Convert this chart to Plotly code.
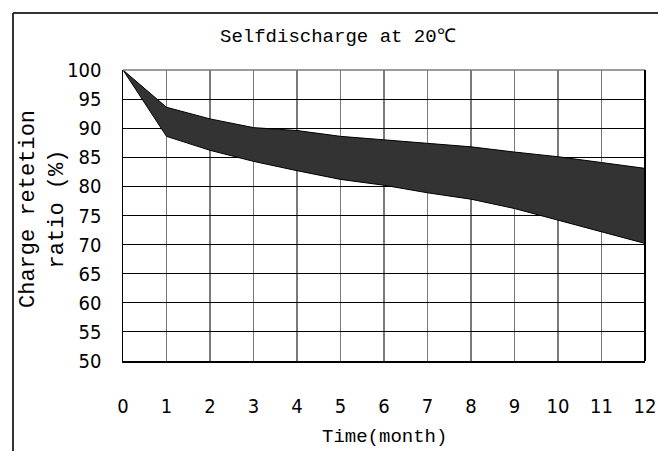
import plotly.graph_objects as go

months = [0, 1, 2, 3, 4, 5, 6, 7, 8, 9, 10, 11, 12]
upper = [100, 93.6, 91.6, 90.1, 89.6, 88.6, 88.0, 87.4, 86.8, 85.9, 85.1, 84.1, 83.1]
lower = [100, 88.6, 86.2, 84.3, 82.7, 81.2, 80.2, 78.9, 77.8, 76.2, 74.2, 72.2, 70.2]
y_ticks = [50, 55, 60, 65, 70, 75, 80, 85, 90, 95, 100]
x_ticks = months

W, H = 658, 451
L, R, T, B = 123, 13, 70, 451 - 361
PW, PH = W - L - R, H - T - B


def px(x):
    return (x - L) / PW


def py(y):
    return (H - B - y) / PH


band_x = months + months[::-1]
band_y = upper + lower[::-1]

fig = go.Figure()
fig.add_trace(go.Scatter(
    x=band_x, y=band_y, fill="toself", mode="lines",
    fillcolor="#333333", line=dict(color="#000000", width=1),
    hoverinfo="skip", showlegend=False,
))

tick_font = dict(family="DejaVu Sans Condensed, Liberation Sans Narrow, Liberation Sans", size=20, color="#000")
mono = "Liberation Mono, DejaVu Sans Mono, monospace"

fig.update_layout(
    width=W, height=H,
    margin=dict(l=L, r=R, t=T, b=B, pad=0, autoexpand=False),
    paper_bgcolor="white", plot_bgcolor="white",
    showlegend=False,
    xaxis=dict(
        range=[0, 12], tickvals=x_ticks, ticktext=[str(v) for v in x_ticks],
        showgrid=True, gridcolor="#7a7a7a", gridwidth=1.5, automargin=False,
        showline=True, linecolor="#000", linewidth=2, mirror=False,
        ticks="", tickfont=tick_font, ticklabelstandoff=26, zeroline=False,
    ),
    yaxis=dict(
        range=[50, 100], tickvals=y_ticks, ticktext=[str(v) for v in y_ticks],
        showgrid=True, gridcolor="#000", gridwidth=1, automargin=False,
        showline=True, linecolor="#000", linewidth=1.5, mirror=False,
        ticks="", tickfont=tick_font, ticklabelstandoff=16, zeroline=False,
    ),
    shapes=[
        dict(type="line", xref="paper", yref="paper", x0=0, x1=1, y0=1, y1=1,
             line=dict(color="#7a7a7a", width=1.5)),
        dict(type="line", xref="paper", yref="paper", x0=1, x1=1, y0=0, y1=1,
             line=dict(color="#000", width=2)),
        dict(type="line", xref="paper", yref="paper", x0=px(13), x1=px(13), y0=py(13), y1=py(470),
             line=dict(color="#333", width=2)),
        dict(type="line", xref="paper", yref="paper", x0=px(13), x1=px(680), y0=py(13), y1=py(13),
             line=dict(color="#333", width=2)),
    ],
    annotations=[
        dict(text="Selfdischarge at 20℃", xref="paper", yref="paper", x=px(338), y=py(37),
             showarrow=False, xanchor="center", yanchor="middle",
             font=dict(family=mono, size=19, color="#000")),
        dict(text="Time(month)", xref="paper", yref="paper", x=px(384), y=py(437),
             showarrow=False, xanchor="center", yanchor="middle",
             font=dict(family=mono, size=19, color="#000")),
        dict(text="Charge retetion<br>ratio (%)", xref="paper", yref="paper", x=px(43), y=py(209),
             showarrow=False, xanchor="center", yanchor="middle", textangle=-90,
             font=dict(family=mono, size=22, color="#000")),
    ],
)

fig.write_html(
    "out.html",
    config={"displayModeBar": False, "staticPlot": True},
    post_script="document.body.style.margin='0';document.documentElement.style.overflow='hidden';",
)
